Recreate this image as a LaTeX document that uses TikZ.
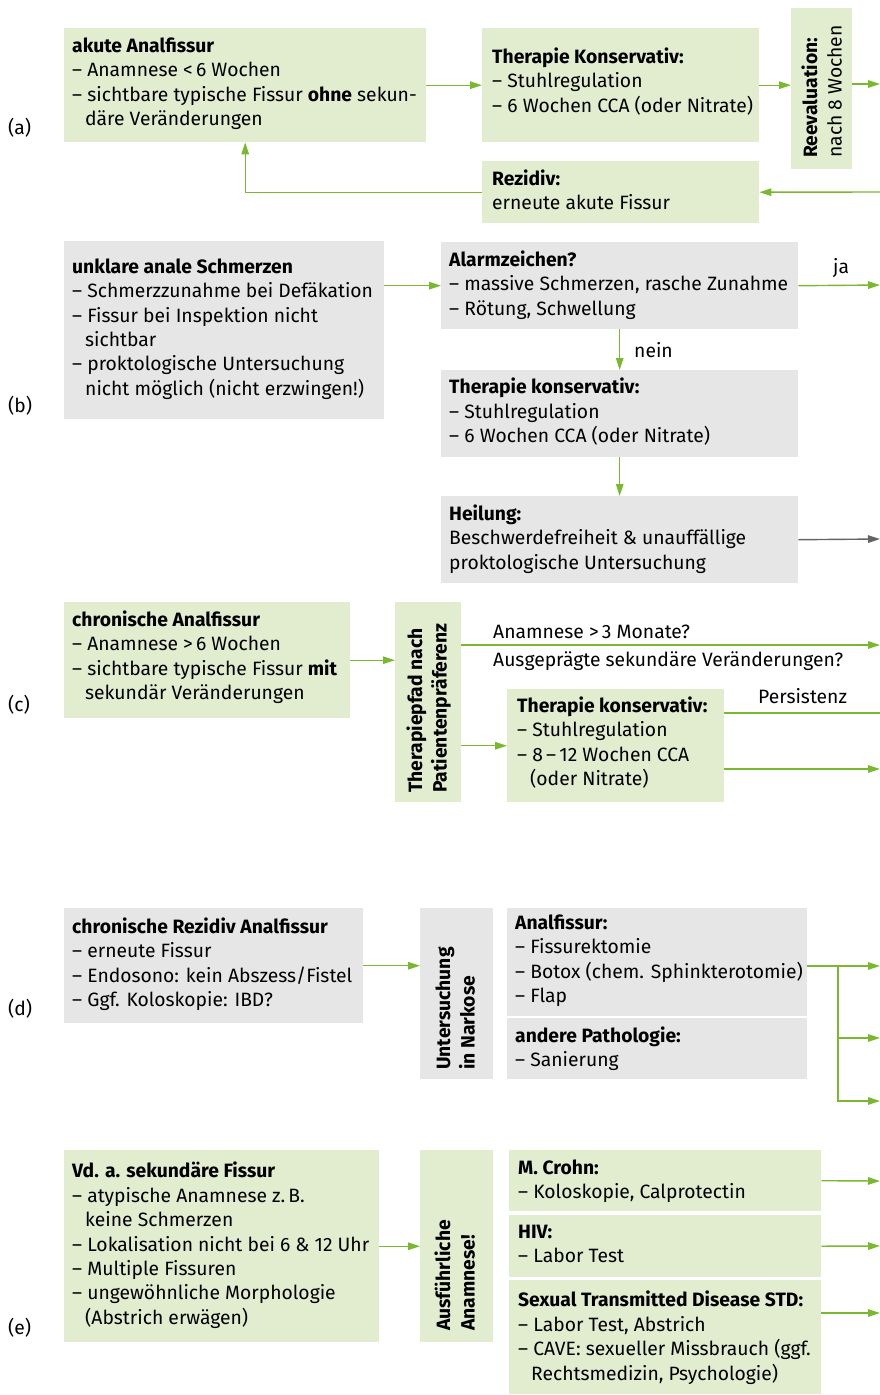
\documentclass[tikz,border=0pt]{standalone}
\usepackage{fontspec}
\setmainfont{Fira Sans}
\usetikzlibrary{arrows.meta,calc}
\definecolor{gfill}{RGB}{226,236,207}
\definecolor{kfill}{RGB}{230,230,230}
\definecolor{garr}{RGB}{122,184,48}
\definecolor{darr}{RGB}{100,100,100}
\newcommand\mystrut{\rule{0pt}{17pt}}
\newcommand\ind{\hspace*{13pt}}
\newcommand\txtbox[5]{\node[txt] (#1) at ($(#2.north west)+(#3,{#4-17})$) {\mystrut#5};}
\begin{document}
\begin{tikzpicture}[x=1pt,y=-1pt,
 gbox/.style={fill=gfill, draw=none, inner sep=0pt, anchor=north west},
 kbox/.style={fill=kfill, draw=none, inner sep=0pt, anchor=north west},
 txt/.style={anchor=north west, inner sep=0pt, align=left, font=\fontsize{19.3}{24.4}\selectfont},
 vtxt/.style={txt, rotate=90},
 lbl/.style={inner sep=0pt, font=\fontsize{19.3}{24.4}\selectfont},
 arr/.style={draw=garr, line width=1.4pt, -{Triangle[length=12pt,width=7.5pt]}},
 ln/.style={draw=garr, line width=1.4pt},
 darrow/.style={draw=darr, line width=1.4pt, -{Triangle[length=12pt,width=7.5pt]}}]
\useasboundingbox (0,0) rectangle (880,1395);

% ---- (a)
\node[lbl, anchor=west] (la) at (8,128) {(a)};
\node[gbox, minimum width=362, minimum height=114] (a1) at (64,28) {};
\node[gbox, minimum width=277, minimum height=114] (a2) at (482,28) {};
\node[gbox, minimum width=61, minimum height=161] (rv) at (791,8) {};
\node[gbox, minimum width=277, minimum height=62] (rz) at (482,161) {};
\txtbox{a1t}{a1}{8}{24}{\textbf{akute Analfissur}\\– Anamnese <\,6 Wochen\\– sichtbare typische Fissur \textbf{ohne} sekun-\\\ind däre Veränderungen}
\txtbox{a2t}{a2}{10}{35}{\textbf{Therapie Konservativ:}\\– Stuhlregulation\\– 6 Wochen CCA (oder Nitrate)}
\txtbox{rzt}{rz}{10}{24}{\textbf{Rezidiv:}\\erneute akute Fissur}
\node[vtxt] (rvt) at (800,158) {\mystrut\textbf{Reevaluation:}\\nach 8 Wochen};
\coordinate (aout) at (880,84);
\coordinate (ain) at (880,192);
\draw[arr] (a1.east) -- (a1.east -| a2.west);
\draw[arr] (a2.east) -- (a2.east -| rv.west);
\draw[arr] (aout -| rv.east) -- (aout);
\draw[arr] (ain) -- (rz.east);
\draw[arr] (rz.west) -| (a1.south);

% ---- (b)
\node[lbl, anchor=west] (lb) at (8,406) {(b)};
\node[kbox, minimum width=320, minimum height=178] (b1) at (64,241) {};
\node[kbox, minimum width=357, minimum height=87] (al) at (441,242) {};
\node[kbox, minimum width=357, minimum height=87] (tb) at (441,370) {};
\node[kbox, minimum width=357, minimum height=87] (hl) at (441,496) {};
\txtbox{b1t}{b1}{8}{32}{\textbf{unklare anale Schmerzen}\\– Schmerzzunahme bei Defäkation\\– Fissur bei Inspektion nicht\\\ind sichtbar\\– proktologische Untersuchung\\\ind nicht möglich (nicht erzwingen!)}
\txtbox{alt}{al}{8}{24}{\textbf{Alarmzeichen?}\\– massive Schmerzen, rasche Zunahme\\– Rötung, Schwellung}
\txtbox{tbt}{tb}{8}{23.5}{\textbf{Therapie konservativ:}\\– Stuhlregulation\\– 6 Wochen CCA (oder Nitrate)}
\txtbox{hlt}{hl}{8}{24}{\textbf{Heilung:}\\Beschwerdefreiheit \& unauffällige\\proktologische Untersuchung}
\coordinate (bja) at (880,285);
\coordinate (bhl) at (880,539);
\draw[arr] (b1.east |- al.west) -- (al.west);
\draw[arr] (al.east) -- (bja);
\node[lbl, anchor=base west] (ja) at (833,273) {ja};
\draw[arr] (al.south) -- (tb.north);
\node[lbl, anchor=base west] (nein) at (634,357) {nein};
\draw[arr] (tb.south) -- (hl.north);
\draw[darrow] (hl.east) -- (bhl);

% ---- (c)
\node[lbl, anchor=west] (lc) at (8,705) {(c)};
\node[gbox, minimum width=286, minimum height=116] (c1) at (64,602) {};
\node[gbox, minimum width=66, minimum height=200] (tp) at (395,602) {};
\node[gbox, minimum width=217, minimum height=113] (c2) at (507,689) {};
\txtbox{c1t}{c1}{8}{24}{\textbf{chronische Analfissur}\\– Anamnese >\,6 Wochen\\– sichtbare typische Fissur \textbf{mit}\\\ind sekundär Veränderungen}
\node[vtxt] (tpt) at (405,793) {\mystrut\textbf{Therapiepfad nach}\\\textbf{Patientenpräferenz}};
\txtbox{c2t}{c2}{10}{23}{\textbf{Therapie konservativ:}\\– Stuhlregulation\\– 8\,–\,12 Wochen CCA\\\ind (oder Nitrate)}
\coordinate (cA) at (880,645);
\coordinate (cP) at (880,713);
\coordinate (cB) at (880,769);
\draw[arr] (c1.east) -- (c1.east -| tp.west);
\draw[arr] (cA -| tp.east) -- (cA);
\node[lbl, anchor=base west] (cq1) at (493,638) {Anamnese >\,3 Monate?};
\node[lbl, anchor=base west] (cq2) at (493,666) {Ausgeprägte sekundäre Veränderungen?};
\draw[arr] (c2.west -| tp.east) -- (c2.west);
\draw[ln] (cP -| c2.east) -- (cP);
\node[lbl, anchor=base west] (pers) at (758,703) {Persistenz};
\draw[arr] (cB -| c2.east) -- (cB);

% ---- (d)
\node[lbl, anchor=west] (ld) at (8,1009) {(d)};
\node[kbox, minimum width=299, minimum height=115] (d1) at (64,908) {};
\node[kbox, minimum width=73, minimum height=171] (un) at (420,908) {};
\node[kbox, minimum width=300, minimum height=108] (d2) at (507,908) {};
\node[kbox, minimum width=300, minimum height=61] (d3) at (507,1018) {};
\txtbox{d1t}{d1}{8}{25}{\textbf{chronische Rezidiv Analfissur}\\– erneute Fissur\\– Endosono: kein Abszess/Fistel\\– Ggf. Koloskopie: IBD?}
\node[vtxt] (unt) at (433,1070) {\mystrut\textbf{Untersuchung}\\\textbf{in Narkose}};
\txtbox{d2t}{d2}{8}{21}{\textbf{Analfissur:}\\– Fissurektomie\\– Botox (chem. Sphinkterotomie)\\– Flap}
\txtbox{d3t}{d3}{8}{24}{\textbf{andere Pathologie:}\\– Sanierung}
\coordinate (dA) at (880,966);
\coordinate (dj) at (838,966);
\coordinate (dB) at (880,1038);
\coordinate (dC) at (880,1101);
\draw[arr] (d1.east) -- (d1.east -| un.west);
\draw[arr] (dA -| d2.east) -- (dA);
\draw[arr] (dj) |- (dB);
\draw[arr] (dj) |- (dC);

% ---- (e)
\node[lbl, anchor=west] (le) at (8,1328) {(e)};
\node[gbox, minimum width=315, minimum height=192] (e1) at (64,1150) {};
\node[gbox, minimum width=73, minimum height=192] (au) at (420,1150) {};
\node[gbox, minimum width=312, minimum height=61] (e2) at (509,1150) {};
\node[gbox, minimum width=312, minimum height=62] (e3) at (509,1215) {};
\node[gbox, minimum width=312, minimum height=114] (e4) at (509,1280) {};
\txtbox{e1t}{e1}{8}{27.7}{\textbf{Vd. a. sekundäre Fissur}\\– atypische Anamnese z.\,B.\\\ind keine Schmerzen\\– Lokalisation nicht bei 6 \& 12 Uhr\\– Multiple Fissuren\\– ungewöhnliche Morphologie\\\ind (Abstrich erwägen)}
\node[vtxt] (aut) at (433,1331) {\mystrut\textbf{Ausführliche}\\\textbf{Anamnese!}};
\txtbox{e2t}{e2}{9}{24}{\textbf{M. Crohn:}\\– Koloskopie, Calprotectin}
\txtbox{e3t}{e3}{9}{23}{\textbf{HIV:}\\– Labor Test}
\txtbox{e4t}{e4}{9}{26.7}{\textbf{Sexual Transmitted Disease STD:}\\– Labor Test, Abstrich\\– CAVE: sexueller Missbrauch (ggf.\\\ind Rechtsmedizin, Psychologie)}
\coordinate (eA) at (880,1181);
\coordinate (eB) at (880,1246);
\coordinate (eC) at (880,1313);
\draw[arr] (e1.east) -- (e1.east -| au.west);
\draw[arr] (e2.east) -- (eA);
\draw[arr] (e3.east) -- (eB);
\draw[arr] (eC -| e4.east) -- (eC);
\end{tikzpicture}
\end{document}
